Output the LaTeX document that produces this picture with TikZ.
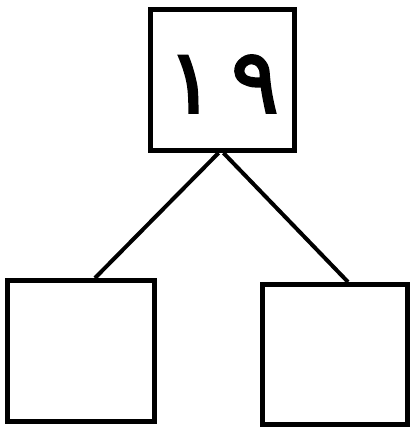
\documentclass[tikz,border=0pt]{standalone}
\usepackage{fontspec}
\newfontfamily\arabicfont[Script=Arabic,FakeBold=2.5]{DejaVu Sans}
\TeXXeTstate=1
\begin{document}
\begin{tikzpicture}[x=1pt,y=-1pt,
		numbox/.style={draw, line width=5pt, inner sep=0pt},
		branch/.style={line width=4pt}]
			\useasboundingbox (0,0) rectangle (411,427);
			% top number
			\node[numbox, minimum width=144pt, minimum height=141pt] (top) at (222.5,80) {};
			\node (num) at (223,84) {\fontsize{90}{90}\selectfont\arabicfont ١\hspace{16pt}٩};
			
			% empty boxes
			\node[numbox, minimum width=147pt, minimum height=141pt] (left) at (81,351) {};
			\node[numbox, minimum width=145pt, minimum height=140pt] (right) at (335,354.5) {};
			
			% branches
			\draw[branch] ([xshift=-4pt]top.south) -- ([xshift=14pt]left.north);
			\draw[branch] ([xshift=1pt]top.south) -- ([xshift=13pt]right.north);
			
		\end{tikzpicture}
\end{document}
